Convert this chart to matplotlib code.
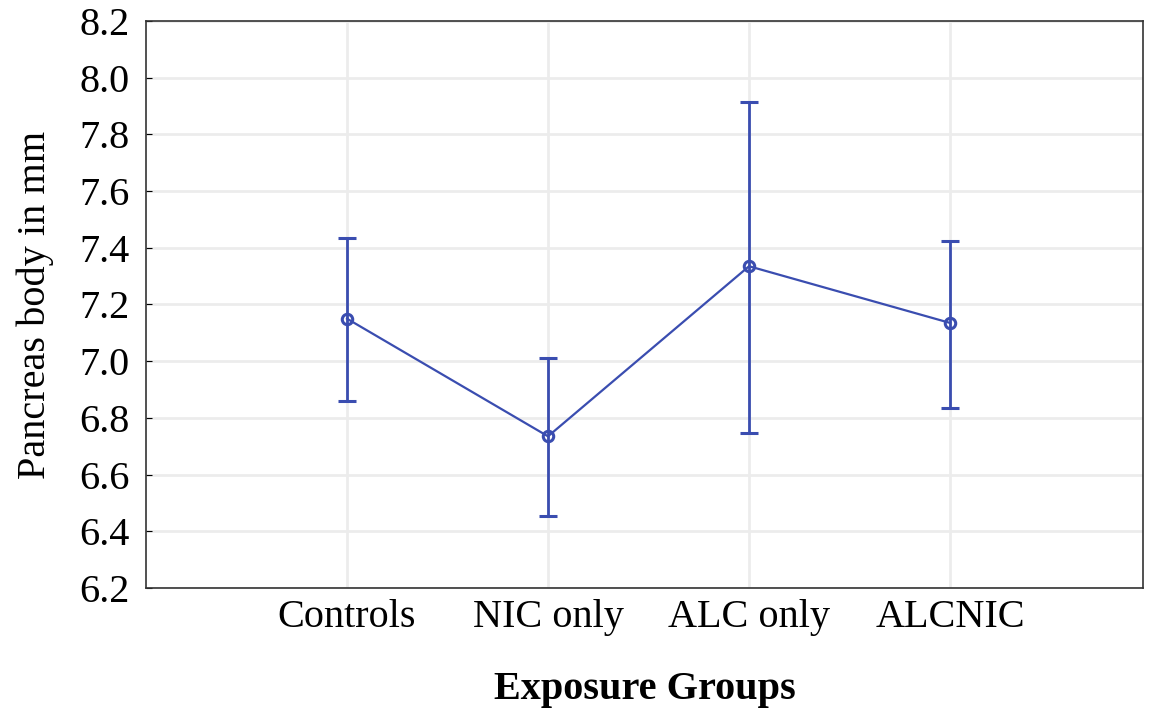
import matplotlib
matplotlib.use("Agg")
import matplotlib.pyplot as plt
import numpy as np

categories = ["Controls", "NIC only", "ALC only", "ALCNIC"]
means = [7.15, 6.735, 7.335, 7.135]
upper = [7.435, 7.01, 7.915, 7.425]
lower = [6.86, 6.455, 6.745, 6.835]
yticks = [6.2, 6.4, 6.6, 6.8, 7.0, 7.2, 7.4, 7.6, 7.8, 8.0, 8.2]

plt.rcParams['font.family'] = ['Liberation Serif', 'DejaVu Serif']

fig = plt.figure(figsize=(11.57, 7.09), dpi=100)
ax = fig.add_axes([146/1157, 1 - 588/709, (1143-146)/1157, (588-21)/709])

x = np.arange(1, len(categories) + 1)
m = np.array(means)
yerr = [m - np.array(lower), np.array(upper) - m]
color = "#3a4db0"
ax.errorbar(x, m, yerr=yerr, color=color, lw=1.6, capsize=6.5, capthick=2,
            elinewidth=2,
            marker='o', markersize=7.5, markerfacecolor='none', markeredgewidth=2.2, zorder=3)

ax.set_xlim(0, 4.96)
ax.set_ylim(6.2, 8.2)
ax.set_yticks(yticks)
ax.set_yticklabels([f"{v:.1f}" for v in yticks])
ax.set_xticks(x)
ax.set_xticklabels(categories)
ax.grid(True, color="#ececec", lw=2, zorder=0)
ax.set_axisbelow(True)
ax.tick_params(axis='both', direction='in', length=4, labelsize=29, colors='black')
ax.tick_params(axis='x', length=0, pad=8)
ax.tick_params(axis='y', pad=12)
for s in ax.spines.values():
    s.set_color('#333333')
    s.set_linewidth(1.2)
ax.set_ylabel("Pancreas body in mm", fontsize=29, labelpad=18)
ax.set_xlabel("Exposure Groups", fontsize=29, fontweight='bold', labelpad=25)

fig.savefig("out.png", dpi=100)
